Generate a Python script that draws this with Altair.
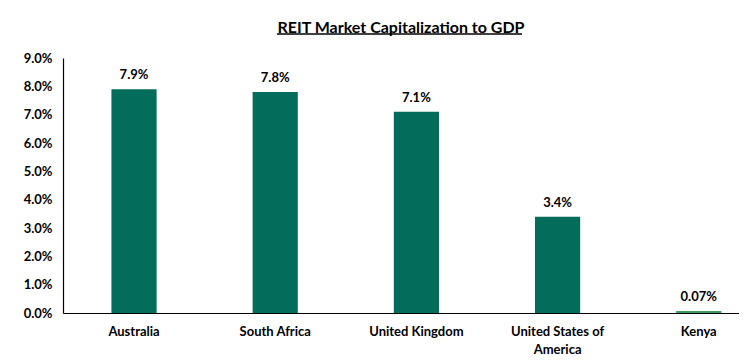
import altair as alt
import pandas as pd

countries = ["Australia", "South Africa", "United Kingdom", "United States of America", "Kenya"]
values = [0.079, 0.078, 0.071, 0.034, 0.0007]
y_ticks = [0.0, 0.01, 0.02, 0.03, 0.04, 0.05, 0.06, 0.07, 0.08, 0.09]
title_text = "REIT Market Capitalization to GDP"

FONT = "Lato"
DARK = "#036c5a"
LIGHT = "#3f9b5c"

df = pd.DataFrame({"country": countries, "value": values})

x = alt.X(
    "country:N",
    sort=countries,
    title=None,
    scale=alt.Scale(paddingInner=0.68, paddingOuter=0.234, align=0.733),
    axis=alt.Axis(
        labelAngle=0,
        ticks=False,
        domainColor="#000000",
        domainWidth=1.2,
        labelFont=FONT,
        labelFontSize=13,
        labelFontWeight="bold",
        labelColor="#000000",
        labelPadding=12,
        labelLineHeight=18,
        labelExpr="datum.label == 'United States of America' ? ['United States of', 'America'] : datum.label",
    ),
)

y = alt.Y(
    "value:Q",
    title=None,
    scale=alt.Scale(domain=[0, 0.09], nice=False),
    axis=alt.Axis(
        values=y_ticks,
        format=".1%",
        grid=False,
        ticks=False,
        domainColor="#000000",
        domainWidth=1.2,
        labelFont=FONT,
        labelFontSize=13,
        labelFontWeight="bold",
        labelColor="#000000",
        labelPadding=11,
    ),
)

base = alt.Chart(df)

bars = base.mark_bar().encode(
    x=x,
    y=y,
    color=alt.condition(alt.datum.country == "Kenya", alt.value(LIGHT), alt.value(DARK)),
)

labels = base.transform_calculate(
    lbl="datum.value < 0.001 ? format(datum.value, '.2%') : format(datum.value, '.1%')"
).mark_text(
    dy=-10, font=FONT, fontSize=13, fontWeight="bold", color="#000000", baseline="alphabetic"
).encode(x=x, y=y, text="lbl:N")

underline = alt.Chart(pd.DataFrame({"a": [0]})).mark_rule(color="#000000", strokeWidth=1.3).encode(
    x=alt.value(214), x2=alt.value(459), y=alt.value(-24)
)

chart = (
    alt.layer(bars, labels, underline)
    .properties(
        width=676,
        height=255,
        title=alt.TitleParams(
            title_text,
            font=FONT,
            fontSize=16,
            fontWeight="bold",
            color="#000000",
            anchor="middle",
            offset=-3,
        ),
        padding={"left": 15, "top": 12, "right": 0, "bottom": 0},
    )
    .configure_view(stroke=None)
)

chart.save("out.html", embed_options={"renderer": "svg", "actions": False})
